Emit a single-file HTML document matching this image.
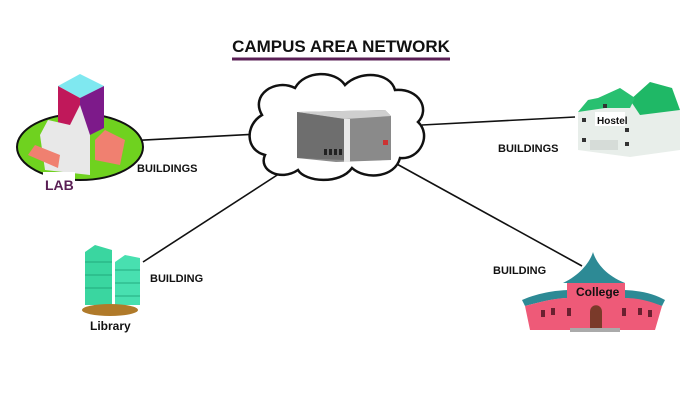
<!DOCTYPE html>
<html><head><style>body{margin:0;background:#fff}svg{display:block}text{font-family:"Liberation Sans",sans-serif;font-weight:bold}</style></head><body>
<svg width="700" height="400" viewBox="0 0 700 400">
<rect width="700" height="400" fill="#fff"/>
<text x="341" y="52" font-size="17" text-anchor="middle" fill="#111">CAMPUS AREA NETWORK</text>
<line x1="232" y1="59" x2="450" y2="59" stroke="#5a1f55" stroke-width="3"/>
<g stroke="#111" stroke-width="1.6">
<line x1="125" y1="141" x2="258" y2="134"/>
<line x1="422" y1="125" x2="575" y2="117"/>
<line x1="143" y1="262" x2="288" y2="168"/>
<line x1="395" y1="163" x2="582" y2="266"/>
</g>
<path d="M262,115 C250,95 275,78 295,88 C305,70 335,70 345,85 C360,70 390,72 395,90 C420,88 430,110 418,122 C432,135 420,160 400,158 C395,178 365,180 352,168 C340,185 305,182 298,170 C280,182 258,170 265,155 C245,150 245,125 262,115 Z" fill="#fff" stroke="#111" stroke-width="2.5"/>
<path d="M297,112 L385,110 L391,116 L391,160 L336,162 L297,158 Z" fill="#8a8a8a"/>
<path d="M297,112 L385,110 L391,116 L345,119 Z" fill="#cfcfcf"/>
<rect x="344" y="119" width="6" height="43" fill="#e8e8e8"/>
<path d="M297,112 L344,119 L344,160 L297,158 Z" fill="#6e6e6e"/>
<g fill="#222"><rect x="324" y="149" width="3" height="6"/><rect x="329" y="149" width="3" height="6"/><rect x="334" y="149" width="3" height="6"/><rect x="339" y="149" width="3" height="6"/></g>
<rect x="383" y="140" width="5" height="5" fill="#c33"/>
<ellipse cx="80" cy="147" rx="63" ry="33" fill="#6fd21f" stroke="#111" stroke-width="2"/>
<path d="M58,86 L80,74 L104,86 L80,98 Z" fill="#7fe8f0"/>
<path d="M58,86 L80,98 L80,140 L58,130 Z" fill="#c0185a"/>
<path d="M80,98 L104,86 L104,128 L80,140 Z" fill="#7d1a8a"/>
<path d="M40,135 L48,120 L70,125 L80,105 L90,135 L90,175 L45,170 Z" fill="#e8e8e8"/>
<path d="M28,155 L35,145 L60,155 L58,168 Z" fill="#f08070"/>
<path d="M95,140 L105,130 L125,140 L120,165 L95,160 Z" fill="#f08070"/>
<rect x="43" y="172" width="32" height="20" fill="#fff"/>
<text x="45" y="190" font-size="14" fill="#5a1f55">LAB</text>
<text x="137" y="172" font-size="11" fill="#111">BUILDINGS</text>
<path d="M85,252 L95,245 L112,250 L112,305 L85,305 Z" fill="#3ad6a0"/>
<path d="M115,262 L125,255 L140,258 L140,305 L115,305 Z" fill="#48e0b0"/>
<g stroke="#1a9a70" stroke-width="0.8">
<line x1="85" y1="262" x2="112" y2="262"/><line x1="85" y1="275" x2="112" y2="275"/><line x1="85" y1="288" x2="112" y2="288"/>
<line x1="115" y1="270" x2="140" y2="270"/><line x1="115" y1="283" x2="140" y2="283"/><line x1="115" y1="296" x2="140" y2="296"/>
</g>
<ellipse cx="110" cy="310" rx="28" ry="6" fill="#b07a2a"/>
<text x="90" y="330" font-size="12" fill="#111">Library</text>
<text x="150" y="282" font-size="11" fill="#111">BUILDING</text>
<path d="M578,112 L588,100 L598,98 L620,88 L635,98 L650,82 L672,88 L680,110 L680,150 L630,157 L578,150 Z" fill="#e8eeea"/>
<path d="M630,100 L650,82 L672,88 L680,110 L640,115 Z" fill="#1fb866"/>
<path d="M578,112 L588,100 L598,98 L620,88 L635,98 L630,108 L605,108 Z" fill="#28c070"/>
<g fill="#333"><rect x="582" y="118" width="4" height="4"/><rect x="582" y="138" width="4" height="4"/><rect x="625" y="128" width="4" height="4"/><rect x="625" y="142" width="4" height="4"/><rect x="603" y="104" width="4" height="4"/></g>
<rect x="590" y="140" width="28" height="10" fill="#d6dcd8"/>
<rect x="595" y="112" width="30" height="14" fill="#fff"/>
<text x="597" y="124" font-size="10" fill="#111">Hostel</text>
<text x="498" y="152" font-size="11" fill="#111">BUILDINGS</text>
<text x="493" y="274" font-size="11" fill="#111">BUILDING</text>
<path d="M563,283 C580,275 590,262 593,252 C596,262 605,275 625,283 Z" fill="#2d8a95"/>
<path d="M522,300 C540,292 560,290 570,290 L570,298 C555,298 540,302 525,306 Z" fill="#2d8a95"/>
<path d="M620,290 C640,290 655,294 665,300 L662,306 C650,302 635,298 620,298 Z" fill="#2d8a95"/>
<path d="M525,306 C540,302 555,298 567,298 L567,283 L625,283 L625,298 C640,298 652,302 662,306 L655,330 L530,330 Z" fill="#ee5a78"/>
<g fill="#6a2030"><rect x="541" y="310" width="4" height="7"/><rect x="551" y="308" width="4" height="7"/><rect x="567" y="308" width="4" height="8"/><rect x="638" y="308" width="4" height="7"/><rect x="648" y="310" width="4" height="7"/><rect x="622" y="308" width="4" height="8"/></g>
<text x="576" y="296" font-size="12" fill="#111">College</text>
<path d="M590,330 L590,312 C590,303 602,303 602,312 L602,330 Z" fill="#7a3a2a"/>
<rect x="570" y="328" width="50" height="4" fill="#aaa"/>
</svg>
</body></html>
